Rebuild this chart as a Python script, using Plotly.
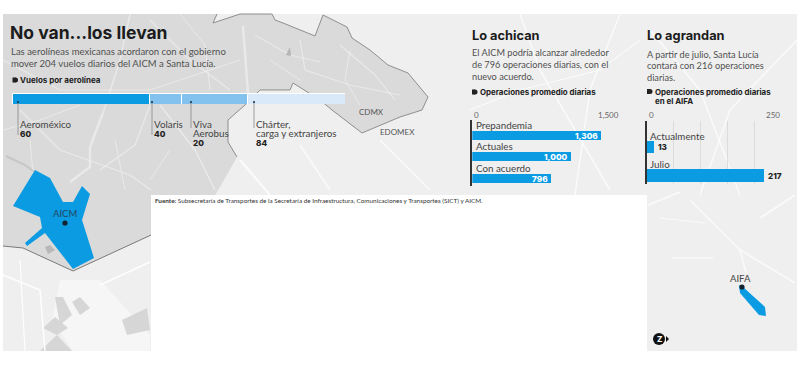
import plotly.graph_objects as go

# --- chart data -----------------------------------------------------------
airline_labels = ["Aeroméxico", "Volaris", "Viva<br>Aerobus", "Chárter,<br>carga y extranjeros"]
airline_printed_values = [60, 40, 20, 84]
# The reference draws its segments in the reverse value order of the printed labels.
segment_names = ["Segmento 1", "Segmento 2", "Segmento 3", "Segmento 4"]
segment_values = [84, 20, 40, 60]

aicm_periods = ["Prepandemia", "Actuales", "Con acuerdo"]
aicm_ops = [1306, 1000, 796]
aicm_ticks = [0, 1500]
aicm_ticktext = ["0", "1,500"]

aifa_periods = ["Actualmente", "Julio"]
aifa_ops = [13, 217]
aifa_ticks = [0, 250]
aifa_ticktext = ["0", "250"]

HEAD = "Inter"
BODY = "Lato"
W, H = 800, 370
BLUE = "#0a9be2"


def px(x):
    return x / W


def py(y):
    return 1 - y / H


def dom_x(a, b):
    return [px(a), px(b)]


def dom_y(top, bottom):
    return [py(bottom), py(top)]


shapes, annots = [], []


def path(points, close=True, fill=None, line=None, lw=0, opacity=1):
    d = "M " + " L ".join(f"{px(x):.5f},{py(y):.5f}" for x, y in points)
    if close:
        d += " Z"
    shapes.append(dict(type="path", path=d, xref="paper", yref="paper", layer="below",
                       fillcolor=fill if close else None,
                       line=dict(color=line or "rgba(0,0,0,0)", width=lw), opacity=opacity))


def text(x, y, s, size=10, color="#505050", weight=400, anchor="left", family=BODY):
    annots.append(dict(x=px(x), y=py(y), xref="paper", yref="paper", text=s, showarrow=False,
                       xanchor=anchor, yanchor="middle", align=anchor,
                       font=dict(family=family, size=size, color=color, weight=weight),
                       borderpad=0, borderwidth=0))


def bullet(x, y):
    shapes.append(dict(type="rect", xref="paper", yref="paper", x0=px(x), x1=px(x + 3), y0=py(y + 2.5),
                       y1=py(y - 2.5), fillcolor="#222", line_width=0, layer="above"))
    shapes.append(dict(type="circle", xref="paper", yref="paper", x0=px(x + 0.5), x1=px(x + 5.5), y0=py(y + 2.5),
                       y1=py(y - 2.5), fillcolor="#222", line_width=0, layer="above"))


# --- background map -------------------------------------------------------
BG = "#efefef"
DARK = "#dadada"
shapes.append(dict(type="rect", xref="paper", yref="paper", x0=px(3), x1=px(797), y0=py(351), y1=py(14),
                   fillcolor=BG, line_width=0, layer="below"))

cdmx_edge = [(217, 14), (213, 23), (240, 14), (272, 14), (275, 20), (283, 23), (315, 36), (323, 15),
             (347, 27), (352, 38), (370, 50), (388, 65), (408, 73), (428, 97), (422, 110), (400, 117),
             (362, 133), (332, 110), (320, 100), (293, 83), (290, 90), (260, 90), (245, 105), (228, 120),
             (228, 142), (237, 157), (220, 187), (215, 195)]
south_edge = [(151, 235), (73, 271), (23, 248), (3, 246)]
path([(3, 14)] + cdmx_edge + [(151, 195)] + south_edge, fill=DARK)

# map roads, pale strokes on the dark area
for r, w in [
    ([(243, 26), (248, 93)], 2.5), ([(103, 113), (90, 147), (90, 167), (70, 182)], 2.5),
    ([(130, 14), (120, 60), (103, 113)], 1.5), ([(20, 110), (60, 150), (130, 175), (151, 190)], 1.2),
    ([(160, 105), (195, 150), (215, 190)], 1.5), ([(3, 60), (60, 90), (150, 90), (240, 60)], 1.2),
    ([(150, 20), (190, 60), (230, 90)], 1.2), ([(300, 40), (305, 70), (350, 85), (400, 95)], 1.2),
    ([(340, 45), (375, 75), (395, 100)], 1.2), ([(100, 170), (135, 145), (150, 105)], 1.2),
    ([(3, 130), (40, 120), (80, 105)], 1), ([(255, 35), (290, 55), (320, 62)], 1.2),
    ([(180, 14), (205, 45), (210, 90)], 1), ([(30, 140), (35, 195)], 1), ([(115, 140), (125, 190)], 1),
    ([(170, 150), (150, 180)], 1), ([(270, 60), (300, 80)], 1), ([(350, 50), (345, 80), (360, 105)], 1),
]:
    path(r, close=False, line="rgba(240,240,240,0.7)", lw=w)
path([(6, 156), (25, 165), (45, 180)], close=False, line="rgba(190,190,190,0.7)", lw=2)
path([(286, 55), (290, 47), (291, 56)], fill="#b5b5b5")
path([(45, 247), (50, 245), (55, 250), (48, 254)], fill="#b8b8b8")

# pale roads on the light area
for r, w in [
    ([(620, 14), (590, 90), (575, 195)], 1.5), ([(470, 110), (520, 90), (600, 70), (640, 40)], 1.2),
    ([(520, 14), (540, 70), (610, 190)], 1.5), ([(240, 160), (270, 195)], 2.5), ([(300, 145), (330, 190)], 1.5),
    ([(380, 140), (430, 190)], 1.2), ([(650, 30), (700, 90), (740, 195)], 1.5),
    ([(797, 40), (730, 110), (700, 195)], 1.5),
    ([(690, 200), (740, 250), (795, 283)], 1.5), ([(660, 218), (705, 223)], 1.2), ([(672, 258), (713, 258)], 1.5),
    ([(740, 250), (746, 273)], 1.5), ([(760, 218), (795, 195)], 2), ([(648, 205), (680, 192)], 1.5),
]:
    path(r, close=False, line="rgba(255,255,255,0.7)", lw=w)

# lower left corner of the map
path([(60, 280), (100, 280), (150, 335), (150, 351), (73, 351), (52, 320)], fill="#f8f8f8", opacity=0.8)
for blob in [[(122, 320), (147, 308), (150, 330), (127, 335)], [(72, 302), (80, 297), (90, 308), (80, 315)],
             [(55, 297), (63, 297), (72, 315), (60, 325)], [(43, 328), (55, 317), (68, 328), (57, 335)],
             [(40, 351), (57, 335), (72, 351)]]:
    path(blob, fill="#d6d6d6")
for r, w in [([(3, 275), (40, 290), (45, 351)], 1.5), ([(100, 285), (150, 262)], 1.5), ([(20, 260), (25, 351)], 1.2)]:
    path(r, close=False, line="rgba(255,255,255,0.9)", lw=w)

# white notch holding the source line
shapes.append(dict(type="rect", xref="paper", yref="paper", x0=px(151), x1=px(647), y0=py(351), y1=py(195),
                   fillcolor="#ffffff", line_width=0, layer="below"))

# boundary lines
path(cdmx_edge[:26], close=False, line="#858585", lw=0.9)
path(south_edge, close=False, line="#7a7a7a", lw=1)

# airports
path([(35, 170), (50, 178), (63, 202), (73, 202), (82, 186), (90, 194), (82, 220), (94, 258), (73, 269),
      (45, 233), (27, 246), (25, 243), (42, 228), (40, 217), (13, 206)], fill=BLUE)
path([(739, 285), (743, 287), (765, 307), (766, 316), (759, 315), (740, 293)], fill=BLUE)
for cx, cy, r in [(65, 223, 2.6), (742, 287, 2.6)]:
    shapes.append(dict(type="circle", xref="paper", yref="paper", x0=px(cx - r), x1=px(cx + r),
                       y0=py(cy + r), y1=py(cy - r), fillcolor="#14222e", line_width=0))

# logo
shapes.append(dict(type="circle", xref="paper", yref="paper", x0=px(653), x1=px(665), y0=py(345), y1=py(333),
                   fillcolor="#111", line_width=0))
path([(666, 336), (669, 339), (666, 342)], fill="#111")

# --- texts ----------------------------------------------------------------
text(10, 32, "No van...los llevan", size=17.5, color="#1c1c1c", weight=700, family=HEAD)
text(11, 51, "Las aerolíneas mexicanas acordaron con el gobierno", size=9.5)
text(11, 63, "mover 204 vuelos diarios del AICM a Santa Lucía.", size=9.5)
bullet(12.5, 80)
text(20, 80, "Vuelos por aerolínea", size=8, color="#222", weight=700, family=HEAD)

text(472, 35, "Lo achican", size=12.8, color="#1c1c1c", weight=700, family=HEAD)
text(472, 52, "El AICM podría alcanzar alrededor", size=9.2)
text(472, 64, "de 796 operaciones diarias, con el", size=9.2)
text(472, 76, "nuevo acuerdo.", size=9.2)
bullet(472, 92)
text(480, 92, "Operaciones promedio diarias", size=7.9, color="#222", weight=700, family=HEAD)

text(647, 35, "Lo agrandan", size=12.8, color="#1c1c1c", weight=700, family=HEAD)
text(647, 54, "A partir de julio, Santa Lucía", size=9.2)
text(647, 66, "contará con 216 operaciones", size=9.2)
text(647, 77, "diarias.", size=9.2)
bullet(647, 91.5)
text(655, 91.5, "Operaciones promedio diarias", size=7.9, color="#222", weight=700, family=HEAD)
text(655, 100.5, "en el AIFA", size=7.9, color="#222", weight=700, family=HEAD)

text(359, 112, "CDMX", size=8, color="#555")
text(380, 132, "EDOMEX", size=8, color="#555")
text(65, 213, "AICM", size=9.5, color="#25455f", anchor="center")
text(740, 278, "AIFA", size=9.5, color="#444", anchor="center")
text(659, 339, "Z", size=8, color="#fff", weight=800, anchor="center", family=HEAD)

text(155, 200, "<b>Fuente:</b> Subsecretaría de Transportes de la Secretaría de Infraestructura, "
     "Comunicaciones y Transportes (SICT) y AICM.", size=6.35, color="#333")

# --- figure ---------------------------------------------------------------
fig = go.Figure()

seg_colors = [BLUE, "#83c1ee", "#83c1ee", "#d9e9fa"]
for name, val, col in zip(segment_names, segment_values, seg_colors):
    fig.add_trace(go.Bar(x=[val], y=["Vuelos"], name=name, orientation="h", width=1,
                         marker=dict(color=col, line=dict(color="#ffffff", width=1)),
                         xaxis="x", yaxis="y", showlegend=False, hoverinfo="x"))

fig.add_trace(go.Bar(x=aicm_ops, y=aicm_periods, orientation="h", width=0.42,
                     marker=dict(color=BLUE, line_width=0), xaxis="x2", yaxis="y2", showlegend=False))
fig.add_trace(go.Bar(x=aifa_ops, y=aifa_periods, orientation="h", width=0.44,
                     marker=dict(color=BLUE, line_width=0), xaxis="x3", yaxis="y3", showlegend=False))

# value labels, anchored on the chart scales
for c, v in zip(aicm_periods, aicm_ops):
    annots.append(dict(x=v, y=c, xref="x2", yref="y2", text=f"{v:,}", showarrow=False, xanchor="right",
                       yanchor="middle", xshift=-1, yshift=-0.5,
                       font=dict(family=HEAD, size=8.2, color="#ffffff", weight=800)))
for c, v in zip(aifa_periods, aifa_ops):
    annots.append(dict(x=v, y=c, xref="x3", yref="y3", text=str(v), showarrow=False, xanchor="left",
                       yanchor="middle", xshift=2, font=dict(family=HEAD, size=8.2, color="#222", weight=800)))

# leader lines and labels of the stacked bar
leader_x = [18, 152, 191, 254]
label_x = [20, 154, 193, 256]
for i, (lab, v) in enumerate(zip(airline_labels, airline_printed_values)):
    n = lab.count("<br>")
    bottom = 135 if i < 2 else 128
    shapes.append(dict(type="line", xref="paper", yref="paper", x0=px(leader_x[i]), x1=px(leader_x[i]),
                       y0=py(102), y1=py(bottom), line=dict(color="#888888", width=0.8)))
    shapes.append(dict(type="circle", xref="paper", yref="paper", x0=px(leader_x[i] - 1), x1=px(leader_x[i] + 1),
                       y0=py(103), y1=py(101), fillcolor="#1c2a38", line_width=0))
    for j, part in enumerate(lab.split("<br>")):
        text(label_x[i], 124 + j * 9, part, size=9.8, color="#444")
    text(label_x[i], 134.5 + n * 8.5, str(v), size=8.2, color="#222", weight=800, family=HEAD)

# category labels, anchored on the chart scales
for xa, ya, cats, shift, xs in [("x2", "y2", aicm_periods, 10.5, 1.5), ("x3", "y3", aifa_periods, 11.5, 1.0)]:
    for c in cats:
        annots.append(dict(x=0, y=c, xref=xa, yref=ya, text=c, showarrow=False, xanchor="left", yanchor="middle",
                           xshift=xs, yshift=shift, font=dict(family=BODY, size=9.8, color="#444")))

# scale labels
for xa, ticks, labels in [("x2", aicm_ticks, aicm_ticktext), ("x3", aifa_ticks, aifa_ticktext)]:
    for k, (t, lab) in enumerate(zip(ticks, labels)):
        annots.append(dict(x=t, y=py(115), xref=xa, yref="paper", text=lab, showarrow=False,
                           xanchor="left" if k == 0 else "right", yanchor="middle",
                           font=dict(family=BODY, size=8, color="#666")))

noaxis = dict(visible=False, fixedrange=True)
fig.update_layout(
    width=W, height=H, margin=dict(l=0, r=0, t=0, b=0, pad=0),
    paper_bgcolor="#ffffff", plot_bgcolor="rgba(0,0,0,0)",
    barmode="stack", showlegend=False, shapes=shapes, annotations=annots,
    font=dict(family=BODY),
    xaxis=dict(domain=dom_x(12, 345), range=[0, sum(segment_values)], anchor="y", **noaxis),
    yaxis=dict(domain=dom_y(93, 104), range=[-0.5, 0.5], anchor="x", **noaxis),
    xaxis2=dict(domain=dom_x(472.3, 620.6), range=[0, 1500], anchor="y2", **noaxis),
    yaxis2=dict(domain=dom_y(120, 186), range=[2.37, -0.70], anchor="x2", showline=True, linecolor="#333",
                linewidth=1.5, showticklabels=False, ticks="", showgrid=False, zeroline=False, fixedrange=True,
                type="category", categoryorder="array", categoryarray=aicm_periods),
    xaxis3=dict(domain=dom_x(647, 781.8), range=[0, 250], anchor="y3", showticklabels=False, ticks="",
                showline=False, zeroline=False, showgrid=True, dtick=50, gridcolor="#dcdcdc", gridwidth=0.7,
                fixedrange=True),
    yaxis3=dict(domain=dom_y(121, 184), range=[1.29, -0.91], anchor="x3", showline=True, linecolor="#333",
                linewidth=1.5, showticklabels=False, ticks="", showgrid=False, zeroline=False, fixedrange=True,
                type="category", categoryorder="array", categoryarray=aifa_periods),
)

fig.write_html("out.html", config=dict(displayModeBar=False, responsive=False),
               post_script="document.body.style.margin='0';")
